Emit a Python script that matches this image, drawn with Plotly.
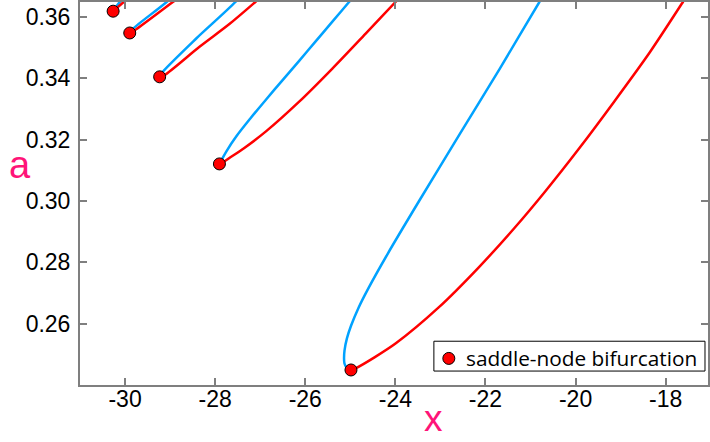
import plotly.graph_objects as go

# Saddle-node bifurcation points (x, a)
sn_x = [-24.985, -27.905, -29.232, -29.896, -30.265]
sn_y = [0.2449, 0.3121, 0.3405, 0.3548, 0.3619]

# Upper (blue) branches emanating from each saddle-node point
blue_1_x = [-24.985, -25.088, -25.131, -25.139, -25.128, -25.075, -24.982, -24.814, -24.626, -24.170, -23.473, -22.575, -21.684, -20.803, -20.398]
blue_1_y = [0.2449, 0.2458, 0.2471, 0.2487, 0.2513, 0.2552, 0.2594, 0.2653, 0.2708, 0.2828, 0.3000, 0.3217, 0.3431, 0.3649, 0.3746]
blue_2_x = [-27.905, -27.838, -27.750, -27.529, -27.219, -26.887, -26.493, -26.135, -25.779, -25.403, -25.027, -24.462]
blue_2_y = [0.3121, 0.3139, 0.3162, 0.3211, 0.3269, 0.3328, 0.3396, 0.3457, 0.3519, 0.3584, 0.3649, 0.3746]
blue_3_x = [-29.232, -29.195, -28.420, -27.551, -26.98]
blue_3_y = [0.3405, 0.3416, 0.3530, 0.3649, 0.3746]
blue_4_x = [-29.896, -29.823, -29.077, -28.35]
blue_4_y = [0.3548, 0.3562, 0.3649, 0.3746]
blue_5_x = [-30.265, -30.117, -29.45]
blue_5_y = [0.3619, 0.3649, 0.3746]

# Lower (red) branches
red_1_x = [-24.985, -24.874, -24.454, -23.989, -23.038, -22.153, -21.356, -20.670, -19.918, -19.144, -18.347, -17.617, -17.197]
red_1_y = [0.2449, 0.2455, 0.2491, 0.2536, 0.2653, 0.2783, 0.2912, 0.3032, 0.3172, 0.3324, 0.3486, 0.3649, 0.3746]
red_2_x = [-27.905, -27.794, -27.684, -27.352, -26.872, -26.135, -25.398, -24.659, -23.996, -23.369]
red_2_y = [0.3121, 0.3129, 0.3140, 0.3173, 0.3227, 0.3324, 0.3432, 0.3546, 0.3649, 0.3746]
red_3_x = [-29.232, -29.122, -28.347, -27.684, -27.108, -26.36]
red_3_y = [0.3405, 0.3411, 0.3503, 0.3577, 0.3649, 0.3746]
red_4_x = [-29.896, -29.785, -28.938, -28.02]
red_4_y = [0.3548, 0.3557, 0.3649, 0.3746]
red_5_x = [-30.265, -30.03, -29.23]
red_5_y = [0.3619, 0.3649, 0.3746]

x_ticks = [-30, -28, -26, -24, -22, -20, -18]
x_tick_text = ["-30", "-28", "-26", "-24", "-22", "-20", "-18"]
y_ticks = [0.24, 0.26, 0.28, 0.30, 0.32, 0.34, 0.36]
y_tick_text = ["", "0.26", "0.28", "0.30", "0.32", "0.34", "0.36"]

legend_label = "saddle-node bifurcation"

BLUE = "#00A2FF"
RED = "#FF0000"
PINK = "#FF1478"
AXIS = "#7f7f7f"
FONT = "Liberation Sans, Arial, sans-serif"

fig = go.Figure()

blues = [(blue_1_x, blue_1_y), (blue_2_x, blue_2_y), (blue_3_x, blue_3_y),
         (blue_4_x, blue_4_y), (blue_5_x, blue_5_y)]
reds = [(red_1_x, red_1_y), (red_2_x, red_2_y), (red_3_x, red_3_y),
        (red_4_x, red_4_y), (red_5_x, red_5_y)]

for bx, by in blues:
    fig.add_trace(go.Scatter(x=bx, y=by, mode="lines",
                             line=dict(color=BLUE, width=2.5, shape="spline", smoothing=0.8),
                             showlegend=False, hoverinfo="skip"))
for rx, ry in reds:
    fig.add_trace(go.Scatter(x=rx, y=ry, mode="lines",
                             line=dict(color=RED, width=2.5, shape="spline", smoothing=0.8),
                             showlegend=False, hoverinfo="skip"))

fig.add_trace(go.Scatter(
    x=sn_x, y=sn_y, mode="markers", name=legend_label, showlegend=False,
    marker=dict(color=RED, size=12, line=dict(color="black", width=1)),
))

axis_common = dict(
    showgrid=False, zeroline=False, showline=True, linecolor=AXIS, linewidth=2,
    mirror="ticks", ticks="inside", ticklen=7, tickwidth=1.5, tickcolor=AXIS,
    tickfont=dict(family=FONT, size=23, color="black"),
)

fig.update_xaxes(range=[-31.0, -17.06], tickvals=x_ticks, ticktext=x_tick_text,
                 ticklabelstandoff=-8, **axis_common)
fig.update_yaxes(range=[0.24, 0.3649], tickvals=y_ticks, ticktext=y_tick_text,
                 ticklabelstandoff=3, **axis_common)

# Axis names
fig.add_annotation(text="a", xref="paper", yref="paper", x=-0.0952, y=0.574,
                   showarrow=False, xanchor="center", yanchor="middle",
                   font=dict(family=FONT, size=38, color=PINK))
fig.add_annotation(text="x", xref="paper", yref="paper", x=0.5635, y=-0.088,
                   showarrow=False, xanchor="center", yanchor="middle",
                   font=dict(family=FONT, size=37, color=PINK))

# Compact key box in the lower-right corner
fig.add_shape(type="rect", xref="paper", yref="paper", x0=0.5635, x1=0.9952, y0=0.0364, y1=0.1143,
              line=dict(color="black", width=1), fillcolor="white", layer="above")
fig.add_shape(type="circle", xref="paper", yref="paper", xsizemode="pixel", ysizemode="pixel",
              xanchor=0.5873, yanchor=0.0694, x0=-6, x1=6, y0=-6, y1=6,
              line=dict(color="black", width=1), fillcolor=RED, layer="above")
fig.add_annotation(text=legend_label, xref="paper", yref="paper", x=0.6115, y=0.0705,
                   showarrow=False, xanchor="left", yanchor="middle",
                   font=dict(family="Open Sans, sans-serif", size=20.8, color="black"))

fig.update_layout(
    width=710, height=442,
    margin=dict(l=80, r=0, t=0, b=57),
    plot_bgcolor="white", paper_bgcolor="white",
    showlegend=False,
)

fig.write_html("out.html")
